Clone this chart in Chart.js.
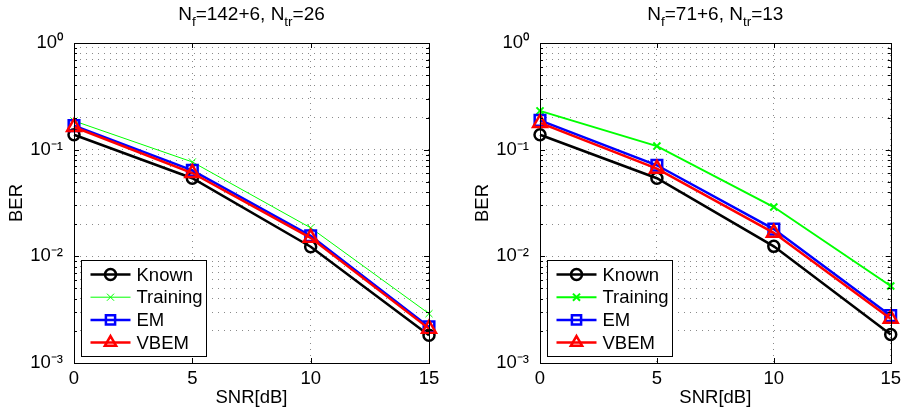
<!DOCTYPE html>
<html><head><meta charset="utf-8">
<script src="https://cdn.jsdelivr.net/npm/chart.js@4/dist/chart.umd.min.js"></script>
<style>
html,body{margin:0;padding:0;background:#fff;width:906px;height:413px;overflow:hidden}
#c1{position:absolute;left:0;top:0}
#c2{position:absolute;left:466px;top:0}
</style></head><body>
<canvas id="c1" width="453" height="413"></canvas>
<canvas id="c2" width="440" height="413"></canvas>
<script>
// ---- data ----
const snrDb = [0, 5, 10, 15];
const seriesNames = ['Known', 'Training', 'EM', 'VBEM'];
const leftKnown    = [0.138, 0.054, 0.0123, 0.00182];
const leftTraining = [0.186, 0.0767, 0.0185, 0.0029];
const leftEM       = [0.168, 0.064, 0.0156, 0.00218];
const leftVBEM     = [0.163, 0.0604, 0.0149, 0.0021];
const rightKnown    = [0.138, 0.054, 0.0124, 0.00185];
const rightTraining = [0.231, 0.108, 0.029, 0.00527];
const rightEM       = [0.188, 0.0714, 0.018, 0.00278];
const rightVBEM     = [0.178, 0.0664, 0.0166, 0.0026];
const xTickValues = [0, 5, 10, 15];
const yTickValues = [0.001, 0.01, 0.1, 1];
const yTickLabels = ['10\u207B\u00B3', '10\u207B\u00B2', '10\u207B\u00B9', '10\u2070'];
const leftTitleParts  = [['N', 0], ['f', 1], ['=142+6, N', 0], ['tr', 1], ['=26', 0]];
const rightTitleParts = [['N', 0], ['f', 1], ['=71+6, N', 0], ['tr', 1], ['=13', 0]];
const xAxisLabel = 'SNR[dB]';
const yAxisLabel = 'BER';

// ---- styles ----
const FONT = "'Liberation Sans', Arial, Helvetica, sans-serif";
const FS = 18.5;
Chart.defaults.font.family = FONT;
Chart.defaults.font.size = FS;
Chart.defaults.color = '#000';
const seriesStyle = [
  {color: '#000000', point: 'circle',   radius: 5.5, order: 3},
  {color: '#00ff00', point: 'crossRot', radius: 5, order: 2},
  {color: '#0000ff', point: 'rect',     radius: 7.5, order: 1},
  {color: '#ff0000', point: 'triangle', radius: 8, order: 0},
];
const thickWidth = 2.5;

// all log grid values (1..9 x 10^k)
const yGridValues = [];
for (let k = 0; k < yTickValues.length - 1; k++) {
  for (let m = 1; m <= 9; m++) yGridValues.push(+(m * yTickValues[k]).toPrecision(3));
}
yGridValues.push(yTickValues[yTickValues.length - 1]);

const framePlugin = {
  id: 'frame',
  afterDatasetsDraw(chart, args, opts) {
    const {ctx, chartArea: a, scales} = chart;
    ctx.save();
    ctx.strokeStyle = '#000';
    ctx.lineWidth = 1;
    ctx.setLineDash([]);
    ctx.beginPath();
    yGridValues.forEach(v => {
      const y = Math.round(scales.y.getPixelForValue(v)) + 0.5;
      const len = yTickValues.includes(v) ? 5 : 3;
      ctx.moveTo(a.left, y); ctx.lineTo(a.left + len, y);
      ctx.moveTo(a.right, y); ctx.lineTo(a.right - len, y);
    });
    xTickValues.forEach(v => {
      const x = Math.round(scales.x.getPixelForValue(v)) + 0.5;
      ctx.moveTo(x, a.bottom); ctx.lineTo(x, a.bottom - 5);
      ctx.moveTo(x, a.top); ctx.lineTo(x, a.top + 5);
    });
    ctx.stroke();
    ctx.strokeRect(Math.round(a.left) + 0.5, Math.round(a.top) + 0.5,
                   Math.round(a.right - a.left), Math.round(a.bottom - a.top));
    ctx.restore();
  },
  afterDraw(chart, args, opts) {
    const {ctx, chartArea: a} = chart;
    ctx.save();
    // title with subscripts
    const parts = opts.titleParts;
    const mainF = '19px ' + FONT, subF = '13.5px ' + FONT;
    let total = 0;
    parts.forEach(p => { ctx.font = p[1] ? subF : mainF; total += ctx.measureText(p[0]).width; });
    let x = (a.left + a.right) / 2 - total / 2;
    const base = 19.5;
    ctx.fillStyle = '#000';
    ctx.textBaseline = 'alphabetic';
    ctx.textAlign = 'left';
    parts.forEach(p => {
      ctx.font = p[1] ? subF : mainF;
      ctx.fillText(p[0], x, p[1] ? base + 6.5 : base);
      x += ctx.measureText(p[0]).width;
    });
    // legend
    const bx = Math.round(a.left + 7) + 0.5, bw = 125, bh = 96;
    const by = Math.round(a.bottom - 7 - bh) + 0.5;
    ctx.fillStyle = '#fff';
    ctx.fillRect(bx, by, bw, bh);
    ctx.strokeStyle = '#000';
    ctx.lineWidth = 1;
    ctx.strokeRect(bx, by, bw, bh);
    chart.data.datasets.forEach((ds, i) => {
      const cy = by + 14 + i * 22.7;
      ctx.strokeStyle = ds.borderColor;
      ctx.lineWidth = ds.borderWidth;
      ctx.beginPath();
      ctx.moveTo(bx + 9, cy); ctx.lineTo(bx + 49, cy);
      ctx.stroke();
      ctx.fillStyle = 'rgba(0,0,0,0)';
      ctx.lineWidth = ds.pointBorderWidth;
      Chart.helpers.drawPoint(ctx, {pointStyle: ds.pointStyle, rotation: 0,
        radius: Math.min(ds.pointRadius, 6.5), borderWidth: ds.pointBorderWidth}, bx + 29, cy);
      ctx.fillStyle = '#000';
      ctx.font = FS + 'px ' + FONT;
      ctx.textBaseline = 'middle';
      ctx.fillText(ds.label, bx + 55, cy + 1);
    });
    ctx.restore();
  }
};

function makeChart(id, seriesList, titleParts, padRight, trainingWidth) {
  const datasets = seriesList.map((vals, i) => {
    const s = seriesStyle[i];
    const w = (i === 1) ? trainingWidth : thickWidth;
    return {
      label: seriesNames[i],
      data: snrDb.map((x, j) => ({x: x, y: vals[j]})),
      borderColor: s.color,
      backgroundColor: s.color,
      borderWidth: w,
      pointStyle: s.point,
      pointRadius: s.radius,
      pointBorderWidth: w,
      pointBackgroundColor: 'rgba(0,0,0,0)',
      pointBorderColor: s.color,
      tension: 0,
      clip: false,
      order: s.order,
    };
  });
  return new Chart(document.getElementById(id), {
    type: 'line',
    data: {datasets},
    options: {
      responsive: false,
      animation: false,
      events: [],
      layout: {padding: {left: 0, right: padRight, top: 43, bottom: 0}},
      plugins: {legend: {display: false}, tooltip: {enabled: false}, title: {display: false},
                frame: {titleParts}},
      scales: {
        x: {
          type: 'linear', min: 0, max: 15,
          afterBuildTicks: sc => { sc.ticks = xTickValues.map(v => ({value: v})); },
          afterFit: sc => { sc.height = 50; },
          ticks: {padding: 5, autoSkip: false, maxRotation: 0, font: {size: FS}},
          grid: {color: '#8a8a8a', lineWidth: 1, drawTicks: false},
          border: {display: false, dash: [1, 5]},
          title: {display: true, text: xAxisLabel, font: {size: FS}, padding: {top: 0, bottom: 4}},
        },
        y: {
          type: 'logarithmic', min: 0.001, max: 1,
          afterBuildTicks: sc => { sc.ticks = yGridValues.map(v => ({value: v})); },
          afterFit: sc => { sc.width = 74; },
          ticks: {
            padding: 11, autoSkip: false, font: {size: FS},
            callback: v => { const k = yTickValues.findIndex(t => Math.abs(t - v) < t * 1e-6); return k >= 0 ? yTickLabels[k] : ''; }
          },
          grid: {color: '#8a8a8a', lineWidth: 1, drawTicks: false},
          border: {display: false, dash: [1, 5]},
          title: {display: true, text: yAxisLabel, font: {size: FS}, padding: {top: 6, bottom: 0}},
        }
      }
    },
    plugins: [framePlugin]
  });
}

makeChart('c1', [leftKnown, leftTraining, leftEM, leftVBEM], leftTitleParts, 24, 1);
makeChart('c2', [rightKnown, rightTraining, rightEM, rightVBEM], rightTitleParts, 11, 2);
</script>
</body></html>
